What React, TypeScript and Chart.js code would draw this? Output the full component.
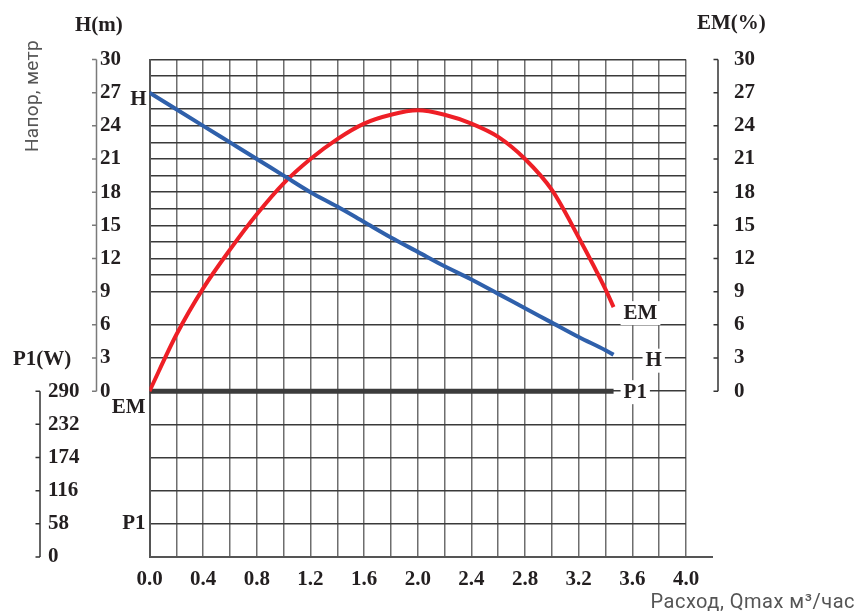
import React, { useEffect, useRef } from 'react';
import { Chart, registerables } from 'chart.js';

Chart.register(...registerables);

// ---- data ----
const flowQ = [0, 0.2, 0.4, 0.6, 0.8, 1.0, 1.2, 1.4, 1.6, 1.8, 2.0, 2.2, 2.4, 2.6, 2.8, 3.0, 3.2, 3.4, 3.46];
const headH = [27, 25.5, 24.0, 22.5, 21.0, 19.5, 18.0, 16.7, 15.3, 13.9, 12.6, 11.3, 10.1, 8.8, 7.5, 6.2, 4.9, 3.7, 3.3];
const effEM = [0, 5.1, 9.3, 12.8, 16.0, 18.8, 21.0, 22.8, 24.2, 25.0, 25.4, 25.0, 24.2, 23.0, 21.0, 18.2, 13.9, 9.2, 7.6];
const p1Flow = [0, 3.46];
const p1Power = [290, 290];

const xTickLabels = ['0.0', '0.4', '0.8', '1.2', '1.6', '2.0', '2.4', '2.8', '3.2', '3.6', '4.0'];
const xGridCount = 20; // grid columns of 0.2 between 0 and 4.0
const hGridLines = [-15, -12, -9, -6, -3, 0, 3, 6, 9, 10.5, 12, 13.5, 15, 16.5, 18, 19.5, 21, 22.5, 24, 25.5, 27, 28.5, 30];
const hTickLabels = [0, 3, 6, 9, 12, 15, 18, 21, 24, 27, 30];
const emTickLabels = [0, 3, 6, 9, 12, 15, 18, 21, 24, 27, 30];
const p1TickLabels = [0, 58, 116, 174, 232, 290];

const H_MIN = -15;
const H_MAX = 30;
const P1_MAX = 870;

const serif = '"Liberation Serif", "Times New Roman", serif';
const tickFont = { family: serif, size: 21, weight: 'bold' as const };
const ink = '#231f20';

const decorPlugin = {
  id: 'decor',
  afterDraw(chart: any) {
    const { ctx, chartArea, scales } = chart;
    const x = scales.x, y = scales.y, yP = scales.yP, yEM = scales.yEM;
    ctx.save();
    const rule = (xPos: number, sc: any, values: number[], color: string) => {
      ctx.strokeStyle = color;
      ctx.lineWidth = 1.5;
      ctx.beginPath();
      ctx.moveTo(xPos, sc.getPixelForValue(values[values.length - 1]));
      ctx.lineTo(xPos, sc.getPixelForValue(values[0]));
      for (const v of values) {
        const py = sc.getPixelForValue(v);
        ctx.moveTo(xPos - 4.5, py);
        ctx.lineTo(xPos, py);
      }
      ctx.stroke();
    };
    rule(y.left - 3.5, y, hTickLabels, '#7a7a7a');
    rule(yP.left - 8, yP, p1TickLabels, '#333');
    rule(yEM.left + 32, yEM, emTickLabels, '#333');

    // extended base line
    ctx.strokeStyle = '#555';
    ctx.lineWidth = 2;
    ctx.beginPath();
    ctx.moveTo(chartArea.right, chartArea.bottom);
    ctx.lineTo(yEM.left + 27, chartArea.bottom);
    ctx.stroke();

    // curve labels
    ctx.font = 'bold 21px ' + serif;
    ctx.textBaseline = 'middle';
    const label = (text: string, px: number, py: number, align: string, bg: boolean) => {
      ctx.textAlign = align;
      const w = ctx.measureText(text).width;
      if (bg) {
        const lx = align === 'left' ? px : px - w;
        ctx.fillStyle = '#fff';
        ctx.fillRect(lx - 3, py - 12, w + 6, 24);
      }
      ctx.fillStyle = ink;
      ctx.fillText(text, px, py);
    };
    const last = flowQ.length - 1;
    label('H', x.getPixelForValue(flowQ[0]) - 3, y.getPixelForValue(headH[0]) + 7, 'right', false);
    label('EM', x.getPixelForValue(flowQ[0]) - 4, yEM.getPixelForValue(effEM[0]) + 16, 'right', false);
    label('P1', x.getPixelForValue(flowQ[0]) - 4, yP.getPixelForValue(p1TickLabels[1]), 'right', false);
    label('EM', x.getPixelForValue(flowQ[last]) + 10, yEM.getPixelForValue(effEM[last]) + 6, 'left', true);
    label('H', x.getPixelForValue(flowQ[last]) + 32, y.getPixelForValue(headH[last]) + 6, 'left', true);
    label('P1', x.getPixelForValue(p1Flow[1]) + 10, yP.getPixelForValue(p1Power[1]) + 1, 'left', true);
    ctx.restore();
  },
};

const titleStyle = (left: number, top: number): React.CSSProperties => ({
  position: 'absolute',
  left,
  top,
  font: 'bold 21px ' + serif,
  lineHeight: '21px',
  color: ink,
  whiteSpace: 'nowrap',
});

export default function App() {
  const ref = useRef<HTMLCanvasElement>(null);

  useEffect(() => {
    const canvas = ref.current;
    if (!canvas) return;
    const chart = new Chart(canvas, {
      type: 'line',
      data: {
        datasets: [
          {
            label: 'H',
            data: flowQ.map((q, i) => ({ x: q, y: headH[i] })),
            yAxisID: 'y',
            borderColor: '#2f60ab',
            borderWidth: 4,
            pointRadius: 0,
            cubicInterpolationMode: 'monotone',
          },
          {
            label: 'EM',
            data: flowQ.map((q, i) => ({ x: q, y: effEM[i] })),
            yAxisID: 'yEM',
            borderColor: '#ee1f26',
            borderWidth: 4,
            pointRadius: 0,
            cubicInterpolationMode: 'monotone',
          },
          {
            label: 'P1',
            data: p1Flow.map((q, i) => ({ x: q, y: p1Power[i] })),
            yAxisID: 'yP',
            borderColor: '#3c3c3c',
            borderWidth: 5,
            pointRadius: 0,
          },
        ],
      },
      options: {
        responsive: false,
        animation: false,
        layout: { padding: { left: 48, top: 59.5, right: 0, bottom: 0 } },
        plugins: { legend: { display: false }, tooltip: { enabled: false } },
        scales: {
          x: {
            type: 'linear',
            position: 'bottom',
            min: 0,
            max: 4.0,
            afterBuildTicks: (s: any) => {
              const t = [];
              for (let i = 0; i <= xGridCount; i++) t.push({ value: Math.round(i * 2) / 10 });
              s.ticks = t;
            },
            afterFit: (s: any) => { s.height = 56; },
            grid: { color: '#6e6e6e', lineWidth: 1.5, drawTicks: false },
            border: { display: true, color: '#555', width: 2 },
            ticks: {
              autoSkip: false,
              maxRotation: 0,
              padding: 10,
              color: ink,
              font: tickFont,
              callback: (_v: any, i: number) => (i % 2 === 0 ? xTickLabels[i / 2] : ''),
            },
          },
          y: {
            type: 'linear',
            position: 'left',
            min: H_MIN,
            max: H_MAX,
            afterBuildTicks: (s: any) => { s.ticks = hGridLines.map((v) => ({ value: v })); },
            afterFit: (s: any) => { s.width = 49.5; },
            grid: { color: '#3a3a3a', lineWidth: 1.5, drawTicks: false },
            border: { display: true, color: '#555', width: 2 },
            ticks: {
              autoSkip: false,
              crossAlign: 'far',
              color: ink,
              font: tickFont,
              callback: (v: any) => (hTickLabels.includes(v) ? String(v) : ''),
            },
          },
          yP: {
            type: 'linear',
            position: 'left',
            weight: 1,
            min: 0,
            max: P1_MAX,
            afterBuildTicks: (s: any) => { s.ticks = p1TickLabels.map((v) => ({ value: v })); },
            afterFit: (s: any) => { s.width = 52; },
            grid: { display: false },
            border: { display: false },
            ticks: {
              autoSkip: false,
              crossAlign: 'far',
              color: ink,
              font: tickFont,
              callback: (v: any) => String(v),
            },
          },
          yEM: {
            type: 'linear',
            position: 'right',
            min: H_MIN,
            max: H_MAX,
            afterBuildTicks: (s: any) => { s.ticks = emTickLabels.map((v) => ({ value: v })); },
            afterFit: (s: any) => { s.width = 173; },
            grid: { display: false },
            border: { display: false },
            ticks: {
              autoSkip: false,
              padding: 40,
              color: ink,
              font: tickFont,
              callback: (v: any) => String(v),
            },
          },
        },
      } as any,
      plugins: [decorPlugin],
    } as any);
    return () => chart.destroy();
  }, []);

  return (
    <div style={{ position: 'fixed', left: 0, top: 0, width: 859, height: 613, background: '#fff', overflow: 'hidden' }}>
      <canvas ref={ref} width={859} height={613} style={{ position: 'absolute', left: 0, top: 0, width: 859, height: 613 }} />
      <div style={titleStyle(75, 14)}>H(m)</div>
      <div style={titleStyle(697, 12)}>EM(%)</div>
      <div style={titleStyle(13, 348)}>P1(W)</div>
      <div
        style={{
          position: 'absolute',
          left: 21.5,
          top: 152,
          transform: 'rotate(-90deg)',
          transformOrigin: '0 0',
          font: '19px Roboto, sans-serif',
          lineHeight: '19px',
          letterSpacing: '0.3px',
          color: '#555',
          whiteSpace: 'nowrap',
        }}
      >
        Напор, метр
      </div>
      <div
        style={{
          position: 'absolute',
          right: 4,
          top: 591,
          font: '20px Roboto, sans-serif',
          lineHeight: '20px',
          letterSpacing: '0.5px',
          color: '#555',
          whiteSpace: 'nowrap',
        }}
      >
        Расход, Qmax м³/час
      </div>
    </div>
  );
}
